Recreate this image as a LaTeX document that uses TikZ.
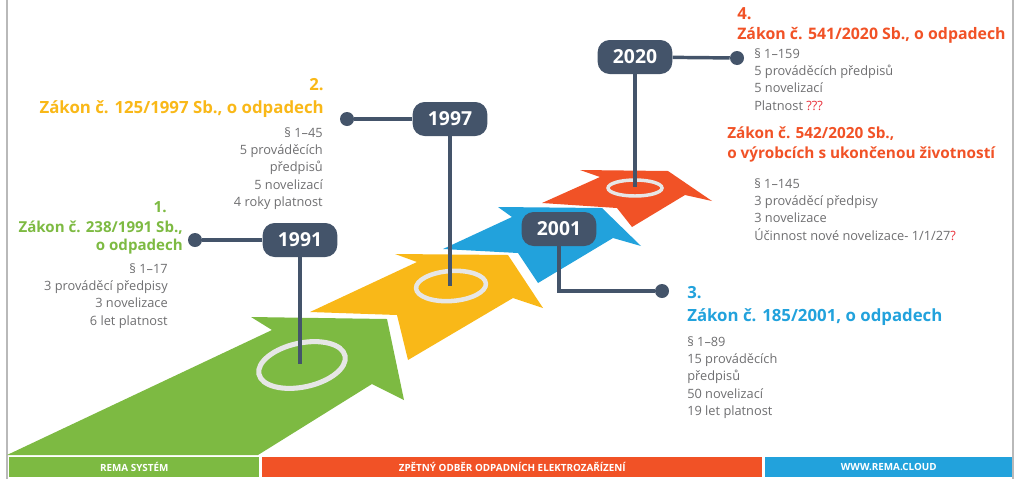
\documentclass[tikz,border=0pt]{standalone}
\usepackage{fontspec}
\setmainfont{Open Sans}
\usetikzlibrary{positioning}
\definecolor{rgreen}{HTML}{7DBA42}
\definecolor{ryellow}{HTML}{F9B818}
\definecolor{rblue}{HTML}{22A2DC}
\definecolor{rred}{HTML}{F15226}
\definecolor{slate}{HTML}{44546A}
\definecolor{txtgray}{HTML}{6E6E70}
\definecolor{ringgray}{HTML}{E6E6E6}
\definecolor{qred}{HTML}{E8303A}

\begin{document}
\begin{tikzpicture}[x=0.75pt, y=-0.75pt,
		ring/.style={draw=ringgray},
		link/.style={draw=slate, line width=2.6pt},
		year/.style={fill=slate, text=white, rounded corners=9pt, minimum width=56pt, minimum height=25.5pt, inner sep=0, font=\bfseries\fontsize{14.5}{16}\selectfont},
		knob/.style={circle, fill=slate, inner sep=0, minimum size=10.5pt},
		law/.style 2 args={inner sep=0, font=\bfseries\fontsize{#1}{#2}\selectfont},
		info/.style={inner sep=0, text=txtgray, font=\fontsize{9.6}{13.1}\selectfont},
		band/.style={anchor=north west, inner sep=0, minimum height=15pt, text=white, font=\bfseries\fontsize{7.4}{8}\selectfont}]
		\useasboundingbox (0,0) rectangle (1020,479);
		\draw[gray!55, line width=0.8pt] (7,0) -- (7,479) (1013,0) -- (1013,479);
		% steps
		\fill[rgreen] (7,455) -- (272,330) -- (251,317) -- (387,319) -- (404,400) -- (372,384) -- (258,455) -- cycle;
		\fill[ryellow] (310,312) -- (417,262) -- (395,254) -- (508,255) -- (543,308) -- (513,298) -- (408,360) -- (397,315) -- cycle;
		\fill[rblue] (443,249) -- (512,217) -- (498,207) -- (602,208) -- (641,246) -- (613,238) -- (538,283) -- (518,253) -- cycle;
		\fill[rred] (542,203) -- (600,177) -- (580,170) -- (668,171) -- (712,201) -- (685,195) -- (632,227) -- (617,208) -- cycle;
		\coordinate (c1991) at (300,364);
		\coordinate (c1997) at (450,286);
		\coordinate (c2020) at (635,187);
		\draw[ring, line width=3.8pt, rotate around={12:(302,365)}] (302,365) ellipse [x radius=44, y radius=22];
		\draw[ring, line width=3.4pt, rotate around={4:(451,286)}] (451,286) ellipse [x radius=35, y radius=15];
		\draw[ring, line width=2.6pt] (635,188) ellipse [x radius=27, y radius=8];
		% years
		\node[year] (b1991) at (300,240) {1991};
		\node[year] (b1997) at (450,119) {1997};
		\node[year] (b2001) at (559,229) {2001};
		\node[year] (b2020) at (635,57) {2020};
		\node[knob] (d1991) at (195,240) {};
		\node[knob] (d1997) at (347,119) {};
		\node[knob] (d2001) at (662,291) {};
		\node[knob] (d2020) at (737,58) {};
		\draw[link] (b1991) -- (d1991);
		\draw[link] (b1991) -- (b1991 |- c1991);
		\draw[link] (b1997) -- (d1997);
		\draw[link] (b1997) -- (b1997 |- c1997);
		\draw[link] (b2020) -- (d2020);
		\draw[link] (b2020) -- (b2020 |- c2020);
		\draw[link] (b2001) |- (d2001);
		% laws
		\node[law={11.5}{14}, text=rgreen, anchor=base east] (n1991) at (167,212) {1.};
		\node[law={11.3}{13.5}, text=rgreen, align=right, anchor=base east] (t1991) at (183,250) {Zákon č. 238/1991 Sb.,\\o odpadech};
		\node[info, align=right, anchor=north east] (i1991) at (168,263) {§ 1–17\\3 prováděcí předpisy\\3 novelizace\\6 let platnost};
		\node[law={12.5}{14}, text=ryellow, anchor=base east] (n1997) at (324,90) {2.};
		\node[law={12.6}{14}, text=ryellow, anchor=base east] (t1997) at (324,113) {Zákon č. 125/1997 Sb., o odpadech};
		\node[info, align=right, anchor=north east] (i1997) at (323,127) {§ 1–45\\5 prováděcích\\předpisů\\5 novelizací\\4 roky platnost};
		\node[law={12.5}{14}, text=rblue, anchor=base west] (n2001) at (687,298) {3.};
		\node[law={12.6}{14}, text=rblue, anchor=base west] (t2001) at (687,321) {Zákon č. 185/2001, o odpadech};
		\node[info, align=left, anchor=north west] (i2001) at (687,336) {§ 1–89\\15 prováděcích\\předpisů\\50 novelizací\\19 let platnost};
		\node[law={12.5}{14}, text=rred, anchor=base west] (n2020) at (737,19) {4.};
		\node[law={11.9}{14}, text=rred, anchor=base west] (t2020) at (737,39) {Zákon č. 541/2020 Sb., o odpadech};
		\node[info, align=left, anchor=north west] (i2020) at (754,48) {§ 1–159\\5 prováděcích předpisů\\5 novelizací\\Platnost \textcolor{qred}{???}};
		\node[law={11.5}{14.3}, text=rred, align=left, anchor=base west] (t2020b) at (727,158) {Zákon č. 542/2020 Sb.,\\o výrobcích s ukončenou životností};
		\node[info, align=left, anchor=north west] (i2020b) at (754,178) {§ 1–145\\3 prováděcí předpisy\\3 novelizace\\Účinnost nové novelizace- 1/1/27\textcolor{qred}{?}};
		% footer
		\node[band, fill=rgreen, minimum width=187.5pt] (bar1) at (9,457) {REMA SYSTÉM};
		\node[band, fill=rred, minimum width=375pt] (bar2) at (262,457) {ZPĚTNÝ ODBĚR ODPADNÍCH ELEKTROZAŘÍZENÍ};
		\node[band, fill=rblue, minimum width=185.25pt] (bar3) at (765,457) {WWW.REMA.CLOUD};
	\end{tikzpicture}
\end{document}
